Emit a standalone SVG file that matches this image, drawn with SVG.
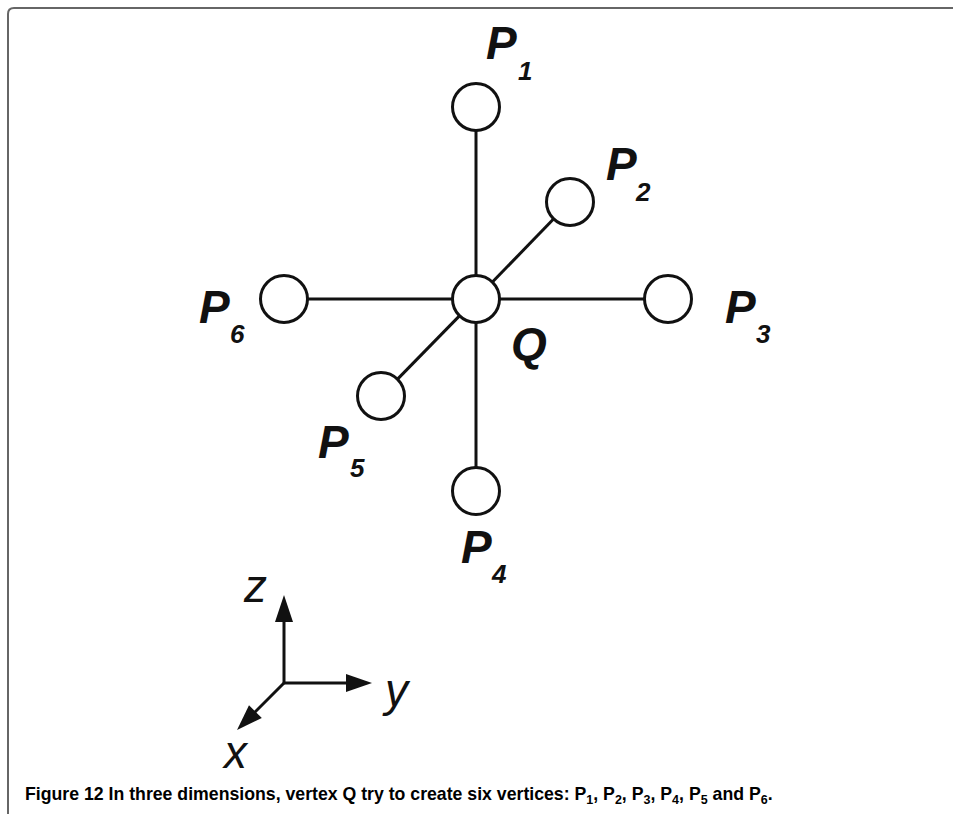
<svg xmlns="http://www.w3.org/2000/svg" width="953" height="814" viewBox="0 0 953 814">
<style>
.node{fill:#fff;stroke:#111;stroke-width:3}
.edge{stroke:#111;stroke-width:3;fill:none}
.lbl{font-family:"Liberation Sans",Arial,sans-serif;font-weight:bold;font-style:italic;font-size:46px;fill:#111}
.sub{font-family:"Liberation Sans",Arial,sans-serif;font-weight:bold;font-style:italic;font-size:26px;fill:#111}
.ax{font-family:"Liberation Sans",Arial,sans-serif;font-style:italic;font-size:46px;fill:#111}
.cap{font-family:"Liberation Sans",Arial,sans-serif;font-weight:bold;font-size:17.7px;fill:#000}
</style>
<rect width="953" height="814" fill="#fff"/>
<path d="M8,814 V14 Q8,8 14,8 H953" fill="none" stroke="#666" stroke-width="2"/>
<g id="connectors">
<line class="edge" x1="476" y1="131" x2="476" y2="275"/>
<line class="edge" x1="476" y1="323" x2="476" y2="467"/>
<line class="edge" x1="308" y1="299" x2="452" y2="299"/>
<line class="edge" x1="500" y1="299" x2="644" y2="299"/>
<line class="edge" x1="492.7" y1="281.8" x2="554" y2="218.5"/>
<line class="edge" x1="459.2" y1="316.1" x2="397.8" y2="378.9"/>
</g>
<g id="Q"><circle class="node" cx="476" cy="299" r="23.5"/><text class="lbl" x="511" y="360">Q</text></g>
<g id="P1"><circle class="node" cx="476" cy="107" r="23.5"/><text class="lbl" x="486" y="59">P</text><text class="sub" x="518" y="80">1</text></g>
<g id="P2"><circle class="node" cx="570" cy="202" r="23.5"/><text class="lbl" x="606" y="180">P</text><text class="sub" x="636" y="201">2</text></g>
<g id="P3"><circle class="node" cx="668" cy="299" r="23.5"/><text class="lbl" x="725" y="323">P</text><text class="sub" x="756" y="343">3</text></g>
<g id="P4"><circle class="node" cx="476" cy="491" r="23.5"/><text class="lbl" x="461" y="563">P</text><text class="sub" x="492" y="583">4</text></g>
<g id="P5"><circle class="node" cx="381" cy="396" r="23.5"/><text class="lbl" x="318" y="458">P</text><text class="sub" x="350" y="477">5</text></g>
<g id="P6"><circle class="node" cx="284" cy="299" r="23.5"/><text class="lbl" x="199" y="323">P</text><text class="sub" x="230" y="343">6</text></g>
<g id="axes">
<line class="edge" x1="284" y1="684" x2="284" y2="618"/>
<polygon points="284,595 275,622 293,622" fill="#111"/>
<line class="edge" x1="283" y1="683" x2="349" y2="683"/>
<polygon points="372,683 346,674 346,692" fill="#111"/>
<line class="edge" x1="285" y1="682" x2="253" y2="714"/>
<polygon points="237,730 261.8,718 249,705.2" fill="#111"/>
<text class="ax" x="244" y="602">z</text>
<text class="ax" x="385" y="706">y</text>
<text class="ax" x="224" y="768">x</text>
</g>
<text class="cap" x="25" y="800">Figure 12 In three dimensions, vertex Q try to create six vertices: P<tspan font-size="12.5" dy="4">1</tspan><tspan dy="-4">, P</tspan><tspan font-size="12.5" dy="4">2</tspan><tspan dy="-4">, P</tspan><tspan font-size="12.5" dy="4">3</tspan><tspan dy="-4">, P</tspan><tspan font-size="12.5" dy="4">4</tspan><tspan dy="-4">, P</tspan><tspan font-size="12.5" dy="4">5</tspan><tspan dy="-4"> and P</tspan><tspan font-size="12.5" dy="4">6</tspan><tspan dy="-4">.</tspan></text>
</svg>
